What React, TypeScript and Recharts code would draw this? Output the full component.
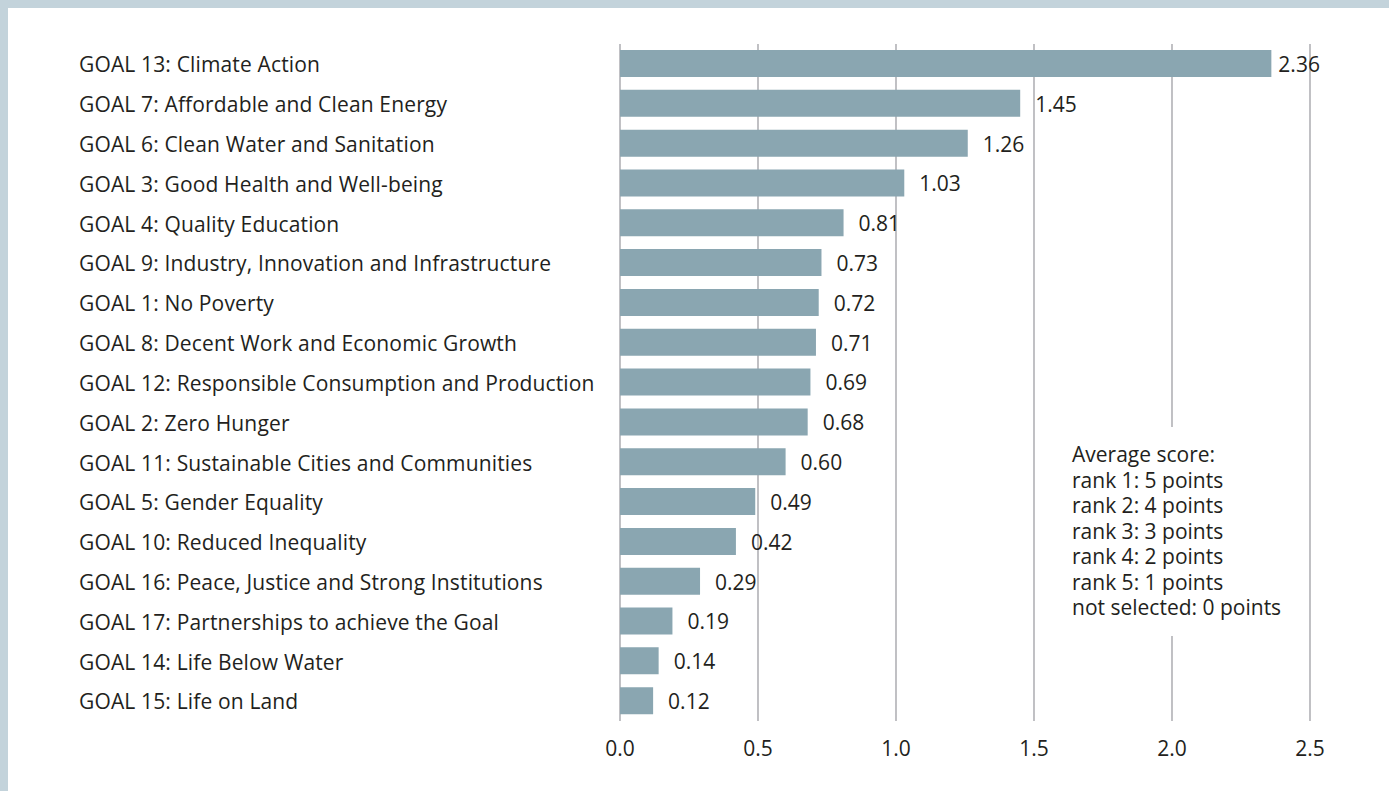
import { Bar, BarChart, CartesianGrid, LabelList, XAxis, YAxis } from "recharts";

const goals = [
  "GOAL 13: Climate Action",
  "GOAL 7: Affordable and Clean Energy",
  "GOAL 6: Clean Water and Sanitation",
  "GOAL 3: Good Health and Well-being",
  "GOAL 4: Quality Education",
  "GOAL 9: Industry, Innovation and Infrastructure",
  "GOAL 1: No Poverty",
  "GOAL 8: Decent Work and Economic Growth",
  "GOAL 12: Responsible Consumption and Production",
  "GOAL 2: Zero Hunger",
  "GOAL 11: Sustainable Cities and Communities",
  "GOAL 5: Gender Equality",
  "GOAL 10: Reduced Inequality",
  "GOAL 16: Peace, Justice and Strong Institutions",
  "GOAL 17: Partnerships to achieve the Goal",
  "GOAL 14: Life Below Water",
  "GOAL 15: Life on Land",
];

const scores = [2.36, 1.45, 1.26, 1.03, 0.81, 0.73, 0.72, 0.71, 0.69, 0.68, 0.6, 0.49, 0.42, 0.29, 0.19, 0.14, 0.12];

const xTicks = [0, 0.5, 1, 1.5, 2, 2.5];

const noteLines = [
  "Average score:",
  "rank 1: 5 points",
  "rank 2: 4 points",
  "rank 3: 3 points",
  "rank 4: 2 points",
  "rank 5: 1 points",
  "not selected: 0 points",
];

const FONT = "'Open Sans', 'Noto Sans', sans-serif";
const TEXT = "#231f20";
const FS = 21;

const data = goals.map((goal, i) => ({ goal, score: scores[i] }));
const maxScore = Math.max(...scores);

// category labels are left-aligned at a fixed x, not right-aligned against the axis
function GoalTick(props: any) {
  const { y, payload } = props;
  return (
    <text
      x={79}
      y={y}
      dy="0.4em"
      textAnchor="start"
      fontSize={FS}
      letterSpacing={0.15}
      fill={TEXT}
      fontFamily={FONT}
    >
      {payload.value}
    </text>
  );
}

// value label after the bar; the longest bar sits tighter so it stays near the last gridline
function ValueLabel(props: any) {
  const { x, y, width, height, value } = props;
  const gap = value === maxScore ? 7 : 15;
  return (
    <text
      x={x + width + gap}
      y={y + height / 2}
      dy="0.4em"
      textAnchor="start"
      fontSize={FS}
      fill={TEXT}
      fontFamily={FONT}
    >
      {Number(value).toFixed(2)}
    </text>
  );
}

export default function App() {
  return (
    <div style={{ position: "absolute", left: 0, top: 0, width: 1389, height: 791, background: "#c3d3db" }}>
      <div style={{ position: "absolute", left: 8, top: 8, right: 0, bottom: 0, background: "#fff" }} />
      <div style={{ position: "absolute", left: 0, top: 0 }}>
        <BarChart
          width={1389}
          height={791}
          layout="vertical"
          data={data}
          margin={{ top: 44, right: 79, bottom: 30, left: 0 }}
        >
          <CartesianGrid horizontal={false} stroke="#a6a6ab" strokeWidth={1.4} />
          <XAxis
            type="number"
            domain={[0, 2.5]}
            ticks={xTicks}
            height={40}
            axisLine={false}
            tickLine={false}
            tickMargin={14}
            tickFormatter={(v: number) => v.toFixed(1)}
            tick={{ fontSize: FS, fill: TEXT, fontFamily: FONT }}
          />
          <YAxis
            type="category"
            dataKey="goal"
            width={620}
            axisLine={false}
            tickLine={false}
            interval={0}
            tick={<GoalTick />}
          />
          <Bar dataKey="score" fill="#8aa6b1" barSize={27} isAnimationActive={false}>
            <LabelList dataKey="score" content={<ValueLabel />} />
          </Bar>
        </BarChart>
      </div>
      <div
        style={{
          position: "absolute",
          left: 1062,
          top: 427,
          width: 240,
          padding: "15px 0 15px 10px",
          background: "#fff",
          fontFamily: FONT,
          fontSize: FS,
          lineHeight: "25.5px",
          color: TEXT,
          boxSizing: "border-box",
        }}
      >
        {noteLines.map((line) => (
          <div key={line}>{line}</div>
        ))}
      </div>
    </div>
  );
}
